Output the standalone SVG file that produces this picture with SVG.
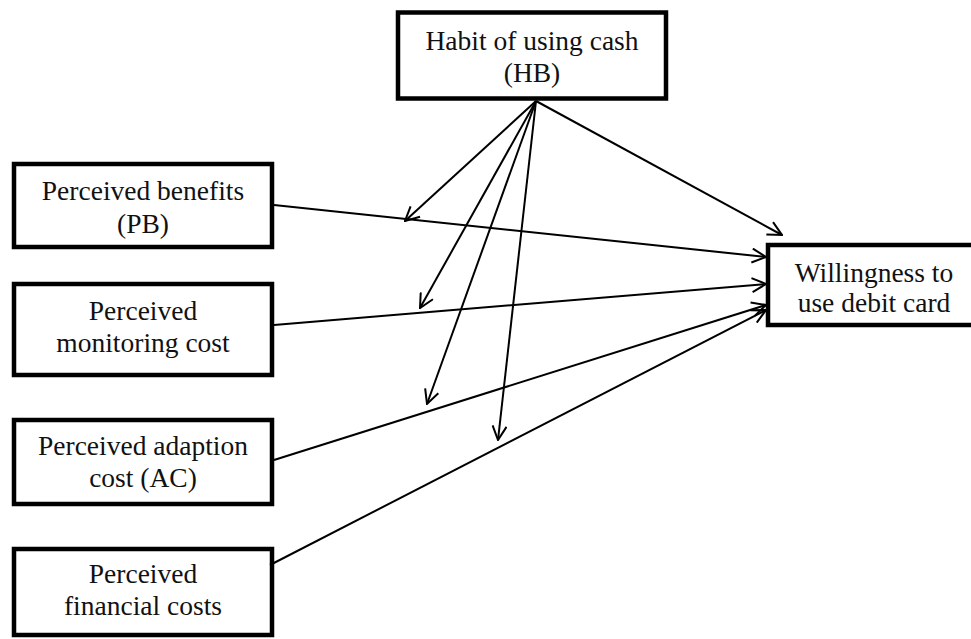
<svg xmlns="http://www.w3.org/2000/svg" width="971" height="639" viewBox="0 0 971 639">
<defs>
<marker id="arr" viewBox="0 0 16 16" refX="15" refY="8" markerUnits="userSpaceOnUse" markerWidth="16" markerHeight="16" orient="auto">
<path d="M1,1 L15,8 L1,15" fill="none" stroke="#000" stroke-width="2"/>
</marker>
<style>
.box{fill:#fff;stroke:#000;stroke-width:4.5}
.lbl{font-family:"Liberation Serif","Times New Roman",serif;font-size:27.5px;fill:#111;text-anchor:middle}
.c{stroke:#000;stroke-width:2;fill:none;marker-end:url(#arr)}
</style>
</defs>
<rect width="971" height="639" fill="#fff"/>
<g id="hb">
<rect class="box" x="398" y="12.5" width="268" height="86"/>
<text class="lbl" x="532" y="50">Habit of using cash</text>
<text class="lbl" x="532" y="82">(HB)</text>
</g>
<g id="pb">
<rect class="box" x="14" y="164" width="258" height="83"/>
<text class="lbl" x="143" y="200">Perceived benefits</text>
<text class="lbl" x="143" y="233">(PB)</text>
</g>
<g id="pmc">
<rect class="box" x="14" y="284" width="258" height="91"/>
<text class="lbl" x="143" y="320">Perceived</text>
<text class="lbl" x="143" y="352">monitoring cost</text>
</g>
<g id="ac">
<rect class="box" x="14" y="420" width="258" height="84"/>
<text class="lbl" x="143" y="455">Perceived adaption</text>
<text class="lbl" x="143" y="487">cost (AC)</text>
</g>
<g id="pfc">
<rect class="box" x="14" y="549" width="258" height="86"/>
<text class="lbl" x="143" y="583">Perceived</text>
<text class="lbl" x="143" y="615">financial costs</text>
</g>
<g id="wd">
<rect class="box" x="768" y="245" width="216" height="80"/>
<text class="lbl" x="874" y="282">Willingness to</text>
<text class="lbl" x="874" y="312">use debit card</text>
</g>
<g id="connectors">
<line class="c" x1="274" y1="205" x2="766" y2="257"/>
<line class="c" x1="274" y1="325" x2="766" y2="284"/>
<line class="c" x1="274" y1="460" x2="766" y2="305"/>
<line class="c" x1="270" y1="565" x2="766" y2="310"/>
<line class="c" x1="536" y1="101" x2="782" y2="235"/>
<line class="c" x1="536" y1="101" x2="405" y2="221"/>
<line class="c" x1="536" y1="101" x2="420" y2="308"/>
<line class="c" x1="536" y1="101" x2="427" y2="404"/>
<line class="c" x1="536" y1="101" x2="498" y2="440"/>
</g>
</svg>
